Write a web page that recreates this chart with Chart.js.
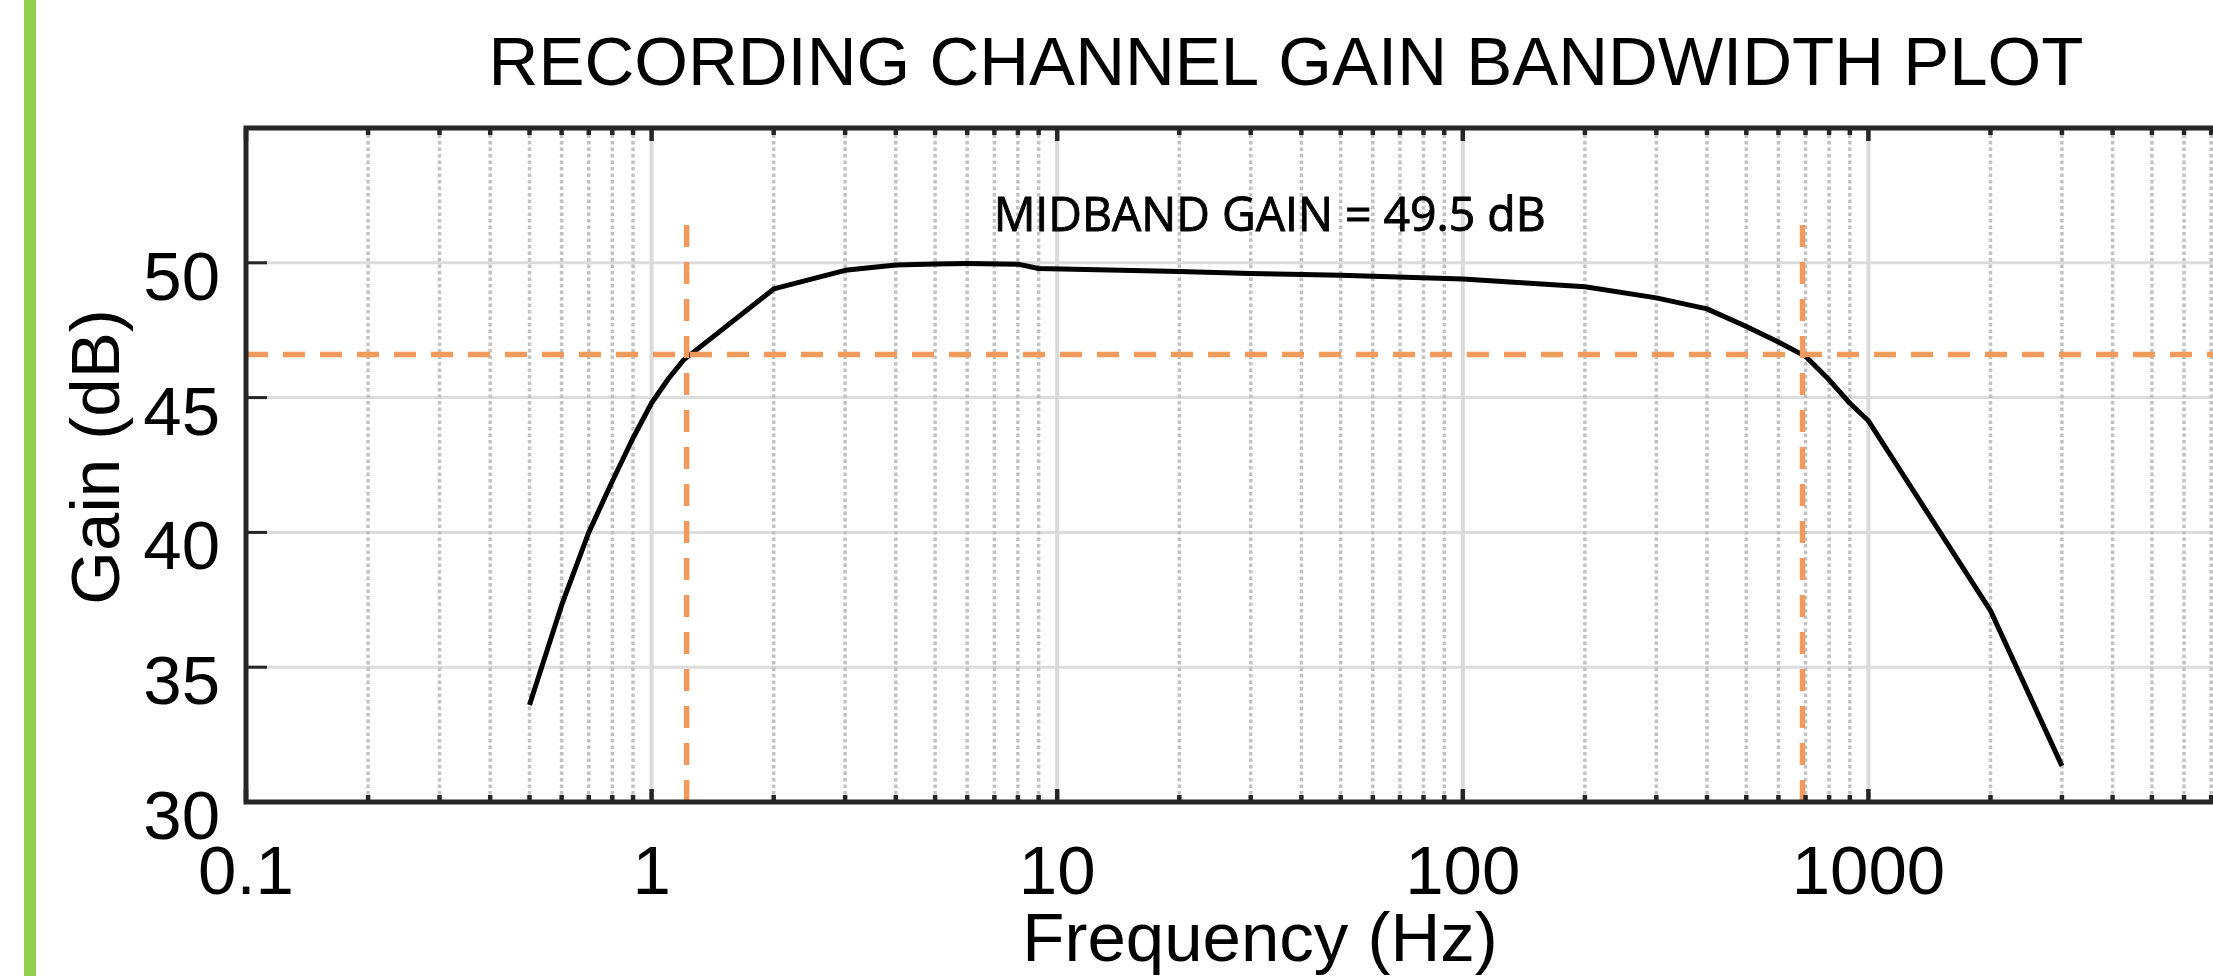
<!DOCTYPE html>
<html lang="en">
<head>
  <meta charset="UTF-8" />
  <title>Recording Channel Gain Bandwidth Plot</title>
  <script src="https://cdn.jsdelivr.net/npm/chart.js"></script>
  <style>
    html, body {
      margin: 0;
      padding: 0;
      background: #fff;
      overflow: hidden;
    }

    .frame {
      position: relative;
      width: 2213px;
      height: 976px;
      overflow: hidden;
    }

    .frame canvas {
      position: absolute;
      left: 0;
      top: 0;
    }

    .accent {
      position: absolute;
      left: 24px;
      top: 0;
      width: 12px;
      height: 976px;
      background: #92d050;
    }
  </style>
</head>
<body>
  <div class="frame">
    <canvas id="gainChart" width="2312" height="976"></canvas>
    <div class="accent"></div>
  </div>

  <script>
    // measured response (Hz, dB)
    const frequency = [0.5, 0.6, 0.7, 0.8, 0.9, 1, 1.1, 1.2, 2, 3, 4, 5, 6, 8, 9, 20, 30, 50, 100,
                       200, 300, 400, 500, 600, 700, 800, 900, 1000, 2000, 3000];
    const gain = [33.6, 37.3, 40.0, 41.9, 43.5, 44.8, 45.7, 46.4, 49.03, 49.72, 49.92, 49.96, 49.97, 49.95, 49.79,
                  49.68, 49.6, 49.54, 49.4, 49.11, 48.7, 48.29, 47.64, 47.06, 46.53, 45.66, 44.79, 44.14, 37.1, 31.34];

    // -3 dB markers
    const cutoffGain = 46.6;
    const cutoffFreqs = [1.22, 688];
    const markerTop = 51.5;

    // axes
    const xDecades = [0.1, 1, 10, 100, 1000, 10000];
    const xMinorSteps = [2, 3, 4, 5, 6, 7, 8, 9];
    const xTickLabels = ['0.1', '1', '10', '100', '1000'];
    const yTicks = [30, 35, 40, 45, 50, 55];
    const yTickLabels = ['30', '35', '40', '45', '50', ''];

    const chartTitle = 'RECORDING CHANNEL GAIN BANDWIDTH PLOT';
    const xTitle = 'Frequency (Hz)';
    const yTitle = 'Gain (dB)';
    const noteText = 'MIDBAND GAIN = 49.5 dB';
    const noteAt = { x: 33.4, y: 51.18 };

    const ORANGE = '#f09b5d';
    const AXIS = '#262626';
    const FONT = '"Liberation Sans", Arial, sans-serif';

    function line(ctx, x1, y1, x2, y2) {
      ctx.beginPath();
      ctx.moveTo(x1, y1);
      ctx.lineTo(x2, y2);
      ctx.stroke();
    }

    // grid, box and inward ticks, drawn from the scales
    const frameLines = {
      id: 'frameLines',
      beforeDatasetsDraw(chart) {
        const { ctx, chartArea: a, scales: { x, y } } = chart;
        ctx.save();
        ctx.strokeStyle = '#dcdcdc';
        ctx.lineWidth = 3;
        yTicks.forEach(v => {
          const py = y.getPixelForValue(v);
          line(ctx, a.left, py, a.right, py);
        });
        x.ticks.forEach(t => {
          const px = x.getPixelForValue(t.value);
          if (t.major) {
            ctx.setLineDash([]);
            ctx.strokeStyle = '#dadada';
            ctx.lineWidth = 4;
          } else {
            ctx.setLineDash([3.5, 3]);
            ctx.strokeStyle = '#c2c2c2';
            ctx.lineWidth = 3.5;
          }
          line(ctx, px, a.top, px, a.bottom);
        });
        ctx.restore();
      },
      afterDatasetsDraw(chart) {
        const { ctx, chartArea: a, scales: { x, y } } = chart;
        ctx.save();
        ctx.strokeStyle = AXIS;
        x.ticks.forEach(t => {
          const px = x.getPixelForValue(t.value);
          const len = t.major ? 13 : 7;
          ctx.lineWidth = 4.5;
          line(ctx, px, a.bottom, px, a.bottom - len);
          line(ctx, px, a.top, px, a.top + len);
        });
        ctx.lineWidth = 3;
        yTicks.forEach(v => {
          const py = y.getPixelForValue(v);
          line(ctx, a.left, py, a.left + 21, py);
          line(ctx, a.right, py, a.right - 21, py);
        });
        ctx.lineWidth = 5;
        ctx.strokeRect(a.left, a.top, a.right - a.left, a.bottom - a.top);
        ctx.restore();
      },
      afterDraw(chart) {
        const { ctx, scales: { x, y } } = chart;
        ctx.save();
        ctx.fillStyle = '#000';
        ctx.font = '69px ' + FONT;
        ctx.textAlign = 'center';
        ctx.textBaseline = 'alphabetic';
        ctx.fillText(chartTitle, 1286, 85);

        // y title, a little above the plot centre as in the original
        ctx.save();
        ctx.translate(100, 457);
        ctx.rotate(-Math.PI / 2);
        ctx.textBaseline = 'middle';
        ctx.fillText(yTitle, 0, 0);
        ctx.restore();

        // annotation, squeezed to the width of the original narrow face
        ctx.font = '47px "Open Sans", "Noto Sans", sans-serif';
        const w = ctx.measureText(noteText).width;
        const sx = 552 / w;
        ctx.translate(x.getPixelForValue(noteAt.x), y.getPixelForValue(noteAt.y));
        ctx.scale(sx, 1);
        ctx.fillText(noteText, 0, 0);
        ctx.strokeStyle = '#000';
        ctx.lineWidth = 0.9;
        ctx.strokeText(noteText, 0, 0);
        ctx.restore();
      }
    };

    const datasets = [
      {
        data: [{ x: xDecades[0], y: cutoffGain }, { x: xDecades[xDecades.length - 1], y: cutoffGain }],
        borderColor: ORANGE, borderWidth: 5.5, borderDash: [22, 15], pointRadius: 0
      }
    ];
    cutoffFreqs.forEach(f => {
      datasets.push({
        data: [{ x: f, y: yTicks[0] }, { x: f, y: markerTop }],
        borderColor: ORANGE, borderWidth: 5.5, borderDash: [22, 15], pointRadius: 0
      });
    });
    datasets.push({
      data: frequency.map((f, i) => ({ x: f, y: gain[i] })),
      borderColor: '#000', borderWidth: 5, pointRadius: 0, tension: 0,
      borderJoinStyle: 'round'
    });

    new Chart(document.getElementById('gainChart'), {
      type: 'line',
      data: { datasets },
      options: {
        responsive: false,
        animation: false,
        devicePixelRatio: 1,
        layout: { padding: { top: 128, right: 6, bottom: 0, left: 0 } },
        plugins: {
          legend: { display: false },
          tooltip: { enabled: false }
        },
        scales: {
          x: {
            type: 'logarithmic',
            min: xDecades[0],
            max: xDecades[xDecades.length - 1],
            grid: { display: false, drawTicks: false },
            border: { display: false },
            afterBuildTicks(scale) {
              const ticks = [];
              xDecades.forEach((d, i) => {
                ticks.push({ value: d, major: true });
                if (i < xDecades.length - 1) {
                  xMinorSteps.forEach(m => ticks.push({ value: d * m, major: false }));
                }
              });
              scale.ticks = ticks;
            },
            afterFit(scale) { scale.height = 174; },
            ticks: {
              autoSkip: false,
              maxRotation: 0,
              padding: 38,
              color: '#000',
              font: { family: FONT, size: 69, lineHeight: 1 },
              callback(value) {
                const i = xDecades.indexOf(value);
                return i >= 0 && i < xTickLabels.length ? xTickLabels[i] : '';
              }
            },
            title: {
              display: true,
              text: xTitle,
              color: '#000',
              padding: { top: 0, bottom: 0 },
              font: { family: FONT, size: 69, lineHeight: 1 }
            }
          },
          y: {
            type: 'linear',
            min: yTicks[0],
            max: yTicks[yTicks.length - 1],
            grid: { display: false, drawTicks: false },
            border: { display: false },
            afterBuildTicks(scale) {
              scale.ticks = yTicks.map(v => ({ value: v }));
            },
            afterFit(scale) { scale.width = 246; },
            ticks: {
              padding: 26,
              labelOffset: 18,
              color: '#000',
              font: { family: FONT, size: 69, lineHeight: 1 },
              callback(value) {
                const i = yTicks.indexOf(value);
                return i >= 0 ? yTickLabels[i] : '';
              }
            },
            title: { display: false }
          }
        }
      },
      plugins: [frameLines]
    });
  </script>
</body>
</html>
